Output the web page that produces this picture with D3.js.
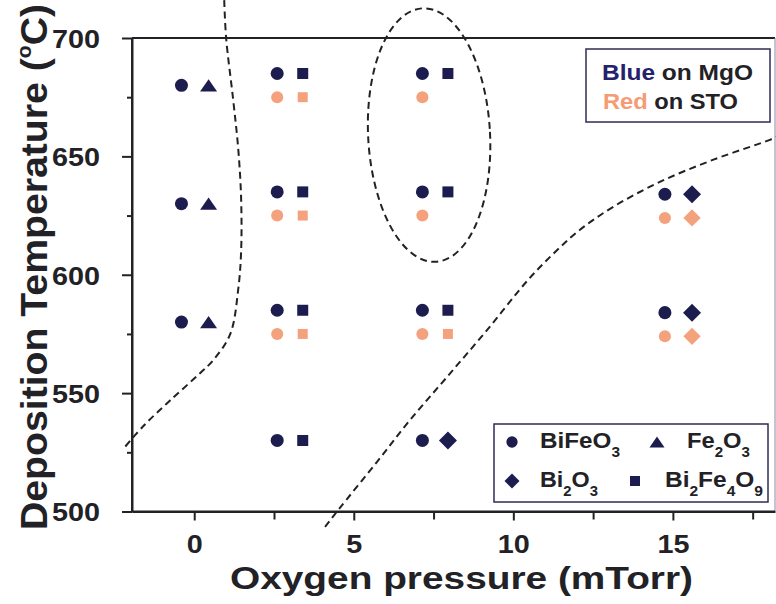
<!DOCTYPE html>
<html>
<head>
<meta charset="utf-8">
<script src="https://cdn.jsdelivr.net/npm/d3@7"></script>
<style>
  body { margin: 0; background: #fff; }
  text { font-family: "Liberation Sans", Arial, Helvetica, sans-serif; font-weight: bold; }
</style>
</head>
<body>
<svg id="chart" width="776" height="604"></svg>
<script>
// ---- data: oxygen pressure (mTorr), deposition temperature (°C) ----
const xTicks = [0, 5, 10, 15];
const xMinorTicks = [2.5, 7.5, 12.5, 17.5];
const yTicks = [500, 550, 600, 650, 700];
const yMinorTicks = [525, 575, 625, 675];

// films grown on MgO (blue)
const mgoBiFeO3 = [[-0.4, 680], [-0.4, 630], [-0.4, 580],
                   [2.6, 685], [2.6, 635], [2.6, 585], [2.6, 530],
                   [7.15, 685], [7.15, 635], [7.15, 585], [7.15, 530],
                   [14.75, 634], [14.75, 584]];
const mgoFe2O3 = [[0.45, 680], [0.45, 630], [0.45, 580]];
const mgoBi2Fe4O9 = [[3.4, 685], [3.4, 635], [3.4, 585], [3.4, 530],
                     [7.95, 685], [7.95, 635], [7.95, 585]];
const mgoBi2O3 = [[7.95, 530], [15.6, 634], [15.6, 584]];

// films grown on STO (red)
const stoBiFeO3 = [[2.6, 675], [2.6, 625], [2.6, 575],
                   [7.15, 675], [7.15, 625], [7.15, 575],
                   [14.75, 624], [14.75, 574]];
const stoBi2Fe4O9 = [[3.4, 675], [3.4, 625], [3.4, 575], [7.95, 575]];
const stoBi2O3 = [[15.6, 624], [15.6, 574]];

// phase boundaries (dashed guides)
const leftBoundary = [[0.94, 716], [1.0, 700], [1.22, 674], [1.38, 653], [1.47, 632],
                      [1.47, 610], [1.38, 594], [1.13, 575], [0.6, 564], [0.19, 558.5],
                      [-0.75, 547], [-1.6, 536], [-2.25, 526]];
const rightBoundary = [[4.1, 493.5], [4.51, 500.6], [5.73, 521], [6.76, 538.6], [7.92, 556.8],
                       [9.18, 576.7], [10.46, 597.8], [11.31, 609.6], [12.09, 619], [13.12, 628.6],
                       [14.59, 639.2], [16.25, 648.5], [18.04, 657], [18.23, 658.2]];
const ellipseCenter = [7.36, 659];
const ellipseRadii = [1.91, 53.6];
const ellipseTilt = -3;

// ---- styles ----
const BLUE = "#1d1c4f";
const RED = "#f4a27e";
const INK = "#222226";

const svg = d3.select("#chart");
const x = d3.scaleLinear().domain([-1.95, 18.2]).range([132, 775]);
const y = d3.scaleLinear().domain([500, 700]).range([511.5, 38]);

// custom marker shapes
const flatTriangle = {
  draw(ctx, size) {
    const w = Math.sqrt(size / 0.36), h = 0.72 * w;
    ctx.moveTo(0, -h / 2);
    ctx.lineTo(w / 2, h / 2);
    ctx.lineTo(-w / 2, h / 2);
    ctx.closePath();
  }
};
const squareDiamond = {
  draw(ctx, size) {
    const d = Math.sqrt(size / 2);
    ctx.moveTo(0, -d);
    ctx.lineTo(d, 0);
    ctx.lineTo(0, d);
    ctx.lineTo(-d, 0);
    ctx.closePath();
  }
};

// ---- frame ----
svg.append("line").attr("x1", 132).attr("x2", 775).attr("y1", y(700)).attr("y2", y(700))
  .attr("stroke", INK).attr("stroke-width", 2);
svg.append("line").attr("x1", 775).attr("x2", 775).attr("y1", y(700)).attr("y2", y(500))
  .attr("stroke", "#8a88a8").attr("stroke-width", 1);

// ---- axes ----
function styleAxis(g) {
  g.select(".domain").attr("stroke", INK).attr("stroke-width", 2);
  g.selectAll(".tick line").attr("stroke", INK).attr("stroke-width", 2);
}
const yMinor = svg.append("g").attr("transform", "translate(132,0)")
  .call(d3.axisLeft(y).tickValues(yMinorTicks).tickSize(5).tickSizeOuter(0).tickFormat(""));
styleAxis(yMinor);
const yAxis = svg.append("g").attr("transform", "translate(132,0)")
  .call(d3.axisLeft(y).tickValues(yTicks).tickSize(10).tickSizeOuter(0).tickPadding(22)
    .tickFormat(d3.format("d")));
styleAxis(yAxis);
yAxis.selectAll(".tick text").attr("fill", INK).attr("font-size", 26)
  .attr("dy", "0.36em")
  .attr("textLength", d => String(d).length * 16).attr("lengthAdjust", "spacingAndGlyphs");

const xMinor = svg.append("g").attr("transform", `translate(0,${y(500)})`)
  .call(d3.axisBottom(x).tickValues(xMinorTicks).tickSize(8).tickSizeOuter(0).tickFormat(""));
styleAxis(xMinor);
const xAxis = svg.append("g").attr("transform", `translate(0,${y(500)})`)
  .call(d3.axisBottom(x).tickValues(xTicks).tickSize(9).tickSizeOuter(0).tickPadding(14)
    .tickFormat(d3.format("d")));
styleAxis(xAxis);
xAxis.selectAll(".tick text").attr("fill", INK).attr("font-size", 26)
  .attr("textLength", d => String(d).length * 16).attr("lengthAdjust", "spacingAndGlyphs");
// keep the axis baselines spanning the full frame
xAxis.select(".domain").attr("d", `M132,0H775`);
yAxis.select(".domain").attr("d", `M0,${y(500)}V${y(700)}`);

// ---- axis titles ----
svg.append("text").attr("x", 461.5).attr("y", 589).attr("text-anchor", "middle")
  .attr("font-size", 32).attr("fill", INK)
  .attr("textLength", 463).attr("lengthAdjust", "spacingAndGlyphs")
  .text("Oxygen pressure (mTorr)");

const yTitle = svg.append("text").attr("transform", "translate(47,267) rotate(-90)")
  .attr("text-anchor", "middle").attr("font-size", 37).attr("fill", INK)
  .attr("textLength", 526).attr("lengthAdjust", "spacingAndGlyphs");
yTitle.append("tspan").text("Deposition Temperature (");
yTitle.append("tspan").attr("font-size", 20).attr("dy", -16).text("o");
yTitle.append("tspan").attr("dy", 16).text("C)");

// ---- dashed boundaries ----
const line = d3.line().x(d => x(d[0])).y(d => y(d[1])).curve(d3.curveCatmullRom.alpha(0.5));
const dash = "7,4.5";
svg.append("path").attr("d", line(leftBoundary)).attr("fill", "none")
  .attr("stroke", INK).attr("stroke-width", 2).attr("stroke-dasharray", dash);
svg.append("path").attr("d", line(rightBoundary)).attr("fill", "none")
  .attr("stroke", INK).attr("stroke-width", 2).attr("stroke-dasharray", dash);
const ecx = x(ellipseCenter[0]), ecy = y(ellipseCenter[1]);
svg.append("ellipse")
  .attr("cx", ecx).attr("cy", ecy)
  .attr("rx", x(ellipseCenter[0] + ellipseRadii[0]) - ecx)
  .attr("ry", y(ellipseCenter[1] - ellipseRadii[1]) - ecy)
  .attr("transform", `rotate(${ellipseTilt},${ecx},${ecy})`)
  .attr("fill", "none").attr("stroke", INK).attr("stroke-width", 2).attr("stroke-dasharray", dash);

// ---- markers ----
function plot(data, type, size, color) {
  const sym = d3.symbol().type(type).size(size);
  svg.append("g").selectAll("path").data(data).join("path")
    .attr("transform", d => `translate(${x(d[0])},${y(d[1])})`)
    .attr("d", sym).attr("fill", color);
}
plot(stoBiFeO3, d3.symbolCircle, 115, RED);
plot(stoBi2Fe4O9, d3.symbolSquare, 100, RED);
plot(stoBi2O3, squareDiamond, 150, RED);
plot(mgoBiFeO3, d3.symbolCircle, 133, BLUE);
plot(mgoFe2O3, flatTriangle, 104, BLUE);
plot(mgoBi2Fe4O9, d3.symbolSquare, 121, BLUE);
plot(mgoBi2O3, squareDiamond, 162, BLUE);

// ---- substrate legend ----
svg.append("rect").attr("x", 586).attr("y", 49).attr("width", 184).attr("height", 73)
  .attr("fill", "#fff").attr("stroke", "#2e2c55").attr("stroke-width", 1.5);
const sub1 = svg.append("text").attr("x", 602).attr("y", 80).attr("font-size", 22)
  .attr("textLength", 151).attr("lengthAdjust", "spacingAndGlyphs");
sub1.append("tspan").attr("fill", "#23226a").text("Blue");
sub1.append("tspan").attr("fill", INK).text(" on MgO");
const sub2 = svg.append("text").attr("x", 603).attr("y", 109).attr("font-size", 22)
  .attr("textLength", 135).attr("lengthAdjust", "spacingAndGlyphs");
sub2.append("tspan").attr("fill", "#f59c74").text("Red");
sub2.append("tspan").attr("fill", INK).text(" on STO");

// ---- phase legend ----
svg.append("rect").attr("x", 494).attr("y", 424).attr("width", 274).attr("height", 78)
  .attr("fill", "#fff").attr("stroke", "#2e2c55").attr("stroke-width", 1.5);
const legendItems = [
  { type: d3.symbolCircle, size: 100, cx: 512, cy: 442, tx: 540, ty: 448, len: 80,
    parts: [["BiFeO", 0], ["3", 1]] },
  { type: flatTriangle, size: 81, cx: 657, cy: 442, tx: 687, ty: 448, len: 63,
    parts: [["Fe", 0], ["2", 1], ["O", 0], ["3", 1]] },
  { type: squareDiamond, size: 112, cx: 512, cy: 481, tx: 540, ty: 487, len: 58,
    parts: [["Bi", 0], ["2", 1], ["O", 0], ["3", 1]] },
  { type: d3.symbolSquare, size: 100, cx: 635, cy: 481, tx: 665, ty: 487, len: 98,
    parts: [["Bi", 0], ["2", 1], ["Fe", 0], ["4", 1], ["O", 0], ["9", 1]] }
];
legendItems.forEach(it => {
  svg.append("path").attr("transform", `translate(${it.cx},${it.cy})`)
    .attr("d", d3.symbol().type(it.type).size(it.size)).attr("fill", BLUE);
  const t = svg.append("text").attr("x", it.tx).attr("y", it.ty).attr("font-size", 22)
    .attr("fill", INK).attr("textLength", it.len).attr("lengthAdjust", "spacingAndGlyphs");
  let sub = false;
  it.parts.forEach(([s, isSub]) => {
    const dy = isSub && !sub ? 9 : (!isSub && sub ? -9 : 0);
    t.append("tspan").attr("dy", dy).attr("font-size", isSub ? 14 : 22).text(s);
    sub = !!isSub;
  });
});
</script>
</body>
</html>
